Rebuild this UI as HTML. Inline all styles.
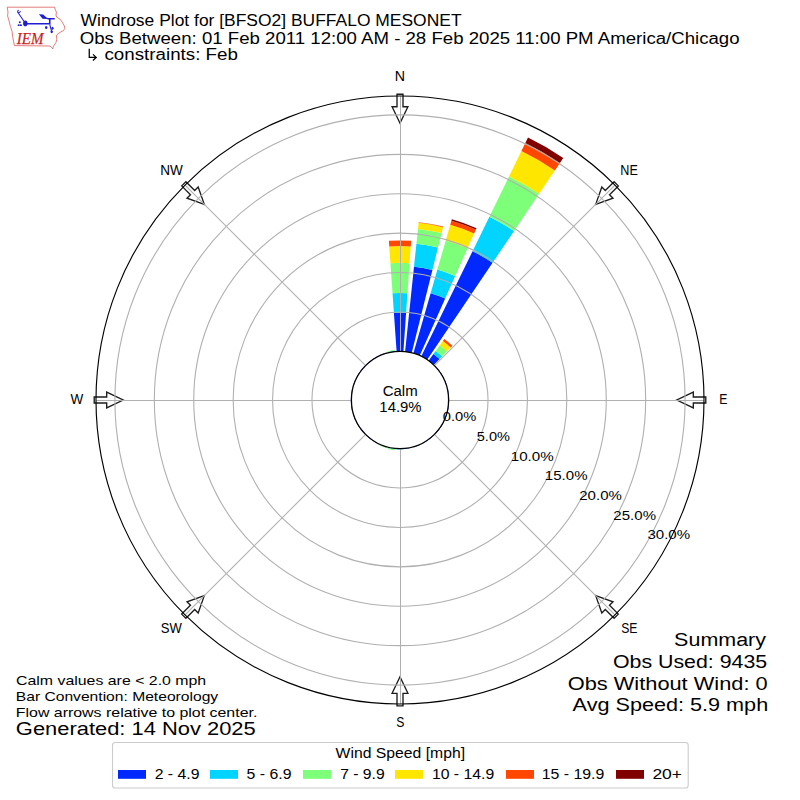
<!DOCTYPE html>
<html><head><meta charset="utf-8"><title>Windrose Plot for [BFSO2] BUFFALO MESONET</title>
<style>html,body{margin:0;padding:0;background:#fff;}svg{display:block;}</style></head>
<body><svg width="800" height="800" viewBox="0 0 800 800">
<rect width="800" height="800" fill="#fff"/>
<path d="M396.61,351.52L393.91,312.91A87.31,87.31 0 0 1 406.09,312.91L403.39,351.52A48.60,48.60 0 0 0 396.61,351.52Z" fill="#0028ff"/>
<path d="M393.91,312.91L392.54,293.25A107.01,107.01 0 0 1 407.46,293.25L406.09,312.91A87.31,87.31 0 0 0 393.91,312.91Z" fill="#00d4ff"/>
<path d="M392.54,293.25L390.43,263.13A137.20,137.20 0 0 1 409.57,263.13L407.46,293.25A107.01,107.01 0 0 0 392.54,293.25Z" fill="#7dff7a"/>
<path d="M390.43,263.13L389.26,246.38A154.00,154.00 0 0 1 410.74,246.38L409.57,263.13A137.20,137.20 0 0 0 390.43,263.13Z" fill="#ffe600"/>
<path d="M389.26,246.38L388.87,240.87A159.51,159.51 0 0 1 411.13,240.87L410.74,246.38A154.00,154.00 0 0 0 389.26,246.38Z" fill="#ff4700"/>
<path d="M405.08,351.67L414.00,266.76A133.97,133.97 0 0 1 432.41,270.01L411.76,352.84A48.60,48.60 0 0 0 405.08,351.67Z" fill="#0028ff"/>
<path d="M414.00,266.76L416.43,243.71A157.15,157.15 0 0 1 438.02,247.52L432.41,270.01A133.97,133.97 0 0 0 414.00,266.76Z" fill="#00d4ff"/>
<path d="M416.43,243.71L417.98,228.89A172.05,172.05 0 0 1 441.62,233.06L438.02,247.52A157.15,157.15 0 0 0 416.43,243.71Z" fill="#7dff7a"/>
<path d="M417.98,228.89L418.62,222.86A178.12,178.12 0 0 1 443.09,227.17L441.62,233.06A172.05,172.05 0 0 0 417.98,228.89Z" fill="#ffe600"/>
<path d="M418.62,222.86L418.68,222.23A178.75,178.75 0 0 1 443.24,226.56L443.09,227.17A178.12,178.12 0 0 0 418.62,222.86Z" fill="#ff4700"/>
<path d="M413.40,353.28L430.63,293.19A111.11,111.11 0 0 1 445.19,298.49L419.77,355.60A48.60,48.60 0 0 0 413.40,353.28Z" fill="#0028ff"/>
<path d="M430.63,293.19L437.41,269.55A135.71,135.71 0 0 1 455.20,276.03L445.19,298.49A111.11,111.11 0 0 0 430.63,293.19Z" fill="#00d4ff"/>
<path d="M437.41,269.55L445.77,240.38A166.06,166.06 0 0 1 467.54,248.30L455.20,276.03A135.71,135.71 0 0 0 437.41,269.55Z" fill="#7dff7a"/>
<path d="M445.77,240.38L450.23,224.84A182.22,182.22 0 0 1 474.11,233.54L467.54,248.30A166.06,166.06 0 0 0 445.77,240.38Z" fill="#ffe600"/>
<path d="M450.23,224.84L451.42,220.67A186.55,186.55 0 0 1 475.88,229.58L474.11,233.54A182.22,182.22 0 0 0 450.23,224.84Z" fill="#ff4700"/>
<path d="M451.42,220.67L451.86,219.16A188.13,188.13 0 0 1 476.52,228.14L475.88,229.58A186.55,186.55 0 0 0 451.42,220.67Z" fill="#800000"/>
<path d="M421.30,356.32L472.55,251.25A165.50,165.50 0 0 1 492.55,262.79L427.18,359.71A48.60,48.60 0 0 0 421.30,356.32Z" fill="#0028ff"/>
<path d="M472.55,251.25L489.42,216.67A203.97,203.97 0 0 1 514.06,230.90L492.55,262.79A165.50,165.50 0 0 0 472.55,251.25Z" fill="#00d4ff"/>
<path d="M489.42,216.67L509.04,176.43A248.75,248.75 0 0 1 539.10,193.78L514.06,230.90A203.97,203.97 0 0 0 489.42,216.67Z" fill="#7dff7a"/>
<path d="M509.04,176.43L521.42,151.06A276.97,276.97 0 0 1 554.88,170.38L539.10,193.78A248.75,248.75 0 0 0 509.04,176.43Z" fill="#ffe600"/>
<path d="M521.42,151.06L525.36,142.98A285.96,285.96 0 0 1 559.91,162.93L554.88,170.38A276.97,276.97 0 0 0 521.42,151.06Z" fill="#ff4700"/>
<path d="M525.36,142.98L527.98,137.60A291.95,291.95 0 0 1 563.26,157.96L559.91,162.93A285.96,285.96 0 0 0 525.36,142.98Z" fill="#800000"/>
<path d="M428.57,360.68L433.43,353.99A56.88,56.88 0 0 1 439.51,359.09L433.76,365.04A48.60,48.60 0 0 0 428.57,360.68Z" fill="#0028ff"/>
<path d="M433.43,353.99L435.66,350.92A60.66,60.66 0 0 1 442.14,356.36L439.51,359.09A56.88,56.88 0 0 0 433.43,353.99Z" fill="#00d4ff"/>
<path d="M435.66,350.92L439.78,345.25A67.68,67.68 0 0 1 447.01,351.32L442.14,356.36A60.66,60.66 0 0 0 435.66,350.92Z" fill="#7dff7a"/>
<path d="M439.78,345.25L442.93,340.91A73.04,73.04 0 0 1 450.74,347.46L447.01,351.32A67.68,67.68 0 0 0 439.78,345.25Z" fill="#ffe600"/>
<path d="M442.93,340.91L444.27,339.06A75.32,75.32 0 0 1 452.32,345.82L450.74,347.46A73.04,73.04 0 0 0 442.93,340.91Z" fill="#ff4700"/>
<path d="M403.39,448.48L403.46,449.43A49.55,49.55 0 0 1 396.54,449.43L396.61,448.48A48.60,48.60 0 0 0 403.39,448.48Z" fill="#00d4ff"/>
<path d="M394.92,448.33L394.84,449.12A49.39,49.39 0 0 1 388.05,447.92L388.24,447.16A48.60,48.60 0 0 0 394.92,448.33Z" fill="#00d4ff"/>
<path d="M394.84,449.12L394.71,450.29A50.57,50.57 0 0 1 387.77,449.07L388.05,447.92A49.39,49.39 0 0 0 394.84,449.12Z" fill="#7dff7a"/>
<path d="M386.60,446.72L386.50,447.10A48.99,48.99 0 0 1 380.07,444.76L380.23,444.40A48.60,48.60 0 0 0 386.60,446.72Z" fill="#00d4ff"/>
<path d="M386.50,447.10L386.23,448.01A49.94,49.94 0 0 1 379.69,445.62L380.07,444.76A48.99,48.99 0 0 0 386.50,447.10Z" fill="#7dff7a"/>
<path d="M434.96,366.24L435.36,365.86A49.15,49.15 0 0 1 439.76,371.11L439.32,371.43A48.60,48.60 0 0 0 434.96,366.24Z" fill="#0028ff"/>
<path d="M440.29,372.82L440.75,372.51A49.15,49.15 0 0 1 444.18,378.45L443.68,378.70A48.60,48.60 0 0 0 440.29,372.82Z" fill="#0028ff"/>
<path d="M444.40,380.23L444.90,380.01A49.15,49.15 0 0 1 447.25,386.45L446.72,386.60A48.60,48.60 0 0 0 444.40,380.23Z" fill="#0028ff"/>
<path d="M447.16,388.24L447.69,388.11A49.15,49.15 0 0 1 448.88,394.86L448.33,394.92A48.60,48.60 0 0 0 447.16,388.24Z" fill="#0028ff"/>
<path d="M448.48,396.61L449.03,396.57A49.15,49.15 0 0 1 449.03,403.43L448.48,403.39A48.60,48.60 0 0 0 448.48,396.61Z" fill="#0028ff"/>
<path d="M448.33,405.08L448.88,405.14A49.15,49.15 0 0 1 447.69,411.89L447.16,411.76A48.60,48.60 0 0 0 448.33,405.08Z" fill="#0028ff"/>
<path d="M446.72,413.40L447.25,413.55A49.15,49.15 0 0 1 444.90,419.99L444.40,419.77A48.60,48.60 0 0 0 446.72,413.40Z" fill="#0028ff"/>
<path d="M443.68,421.30L444.18,421.55A49.15,49.15 0 0 1 440.75,427.49L440.29,427.18A48.60,48.60 0 0 0 443.68,421.30Z" fill="#0028ff"/>
<path d="M439.32,428.57L439.76,428.89A49.15,49.15 0 0 1 435.36,434.14L434.96,433.76A48.60,48.60 0 0 0 439.32,428.57Z" fill="#0028ff"/>
<path d="M433.76,434.96L434.14,435.36A49.15,49.15 0 0 1 428.89,439.76L428.57,439.32A48.60,48.60 0 0 0 433.76,434.96Z" fill="#0028ff"/>
<path d="M427.18,440.29L427.49,440.75A49.15,49.15 0 0 1 421.55,444.18L421.30,443.68A48.60,48.60 0 0 0 427.18,440.29Z" fill="#0028ff"/>
<path d="M419.77,444.40L419.99,444.90A49.15,49.15 0 0 1 413.55,447.25L413.40,446.72A48.60,48.60 0 0 0 419.77,444.40Z" fill="#0028ff"/>
<path d="M411.76,447.16L411.89,447.69A49.15,49.15 0 0 1 405.14,448.88L405.08,448.33A48.60,48.60 0 0 0 411.76,447.16Z" fill="#0028ff"/>
<path d="M378.70,443.68L378.45,444.18A49.15,49.15 0 0 1 372.51,440.75L372.82,440.29A48.60,48.60 0 0 0 378.70,443.68Z" fill="#0028ff"/>
<path d="M371.43,439.32L371.11,439.76A49.15,49.15 0 0 1 365.86,435.36L366.24,434.96A48.60,48.60 0 0 0 371.43,439.32Z" fill="#0028ff"/>
<path d="M365.04,433.76L364.64,434.14A49.15,49.15 0 0 1 360.24,428.89L360.68,428.57A48.60,48.60 0 0 0 365.04,433.76Z" fill="#0028ff"/>
<path d="M359.71,427.18L359.25,427.49A49.15,49.15 0 0 1 355.82,421.55L356.32,421.30A48.60,48.60 0 0 0 359.71,427.18Z" fill="#0028ff"/>
<path d="M355.60,419.77L355.10,419.99A49.15,49.15 0 0 1 352.75,413.55L353.28,413.40A48.60,48.60 0 0 0 355.60,419.77Z" fill="#0028ff"/>
<path d="M352.84,411.76L352.31,411.89A49.15,49.15 0 0 1 351.12,405.14L351.67,405.08A48.60,48.60 0 0 0 352.84,411.76Z" fill="#0028ff"/>
<path d="M351.52,403.39L350.97,403.43A49.15,49.15 0 0 1 350.97,396.57L351.52,396.61A48.60,48.60 0 0 0 351.52,403.39Z" fill="#0028ff"/>
<path d="M351.67,394.92L351.12,394.86A49.15,49.15 0 0 1 352.31,388.11L352.84,388.24A48.60,48.60 0 0 0 351.67,394.92Z" fill="#0028ff"/>
<path d="M353.28,386.60L352.75,386.45A49.15,49.15 0 0 1 355.10,380.01L355.60,380.23A48.60,48.60 0 0 0 353.28,386.60Z" fill="#0028ff"/>
<path d="M356.32,378.70L355.82,378.45A49.15,49.15 0 0 1 359.25,372.51L359.71,372.82A48.60,48.60 0 0 0 356.32,378.70Z" fill="#0028ff"/>
<path d="M360.68,371.43L360.24,371.11A49.15,49.15 0 0 1 364.64,365.86L365.04,366.24A48.60,48.60 0 0 0 360.68,371.43Z" fill="#0028ff"/>
<path d="M366.24,365.04L365.86,364.64A49.15,49.15 0 0 1 371.11,360.24L371.43,360.68A48.60,48.60 0 0 0 366.24,365.04Z" fill="#0028ff"/>
<path d="M372.82,359.71L372.51,359.25A49.15,49.15 0 0 1 378.45,355.82L378.70,356.32A48.60,48.60 0 0 0 372.82,359.71Z" fill="#0028ff"/>
<path d="M380.23,355.60L380.01,355.10A49.15,49.15 0 0 1 386.45,352.75L386.60,353.28A48.60,48.60 0 0 0 380.23,355.60Z" fill="#0028ff"/>
<path d="M388.24,352.84L388.11,352.31A49.15,49.15 0 0 1 394.86,351.12L394.92,351.67A48.60,48.60 0 0 0 388.24,352.84Z" fill="#0028ff"/>
<path d="M388.11,352.31L388.01,351.93A49.55,49.55 0 0 1 394.82,350.73L394.86,351.12A49.15,49.15 0 0 0 388.11,352.31Z" fill="#00d4ff"/>
<path d="M388.01,351.93L387.86,351.31A50.18,50.18 0 0 1 394.76,350.10L394.82,350.73A49.55,49.55 0 0 0 388.01,351.93Z" fill="#7dff7a"/>
<polygon points="397.00,94.20 397.00,106.70 392.10,106.70 400.00,123.20 407.90,106.70 403.00,106.70 403.00,94.20" fill="#fff" stroke="#1c1c1c" stroke-width="1.35" stroke-linejoin="miter"/>
<polygon points="614.11,181.65 605.27,190.48 601.81,187.02 595.73,204.27 612.98,198.19 609.52,194.73 618.35,185.89" fill="#fff" stroke="#1c1c1c" stroke-width="1.35" stroke-linejoin="miter"/>
<polygon points="705.80,397.00 693.30,397.00 693.30,392.10 676.80,400.00 693.30,407.90 693.30,403.00 705.80,403.00" fill="#fff" stroke="#1c1c1c" stroke-width="1.35" stroke-linejoin="miter"/>
<polygon points="618.35,614.11 609.52,605.27 612.98,601.81 595.73,595.73 601.81,612.98 605.27,609.52 614.11,618.35" fill="#fff" stroke="#1c1c1c" stroke-width="1.35" stroke-linejoin="miter"/>
<polygon points="403.00,705.80 403.00,693.30 407.90,693.30 400.00,676.80 392.10,693.30 397.00,693.30 397.00,705.80" fill="#fff" stroke="#1c1c1c" stroke-width="1.35" stroke-linejoin="miter"/>
<polygon points="185.89,618.35 194.73,609.52 198.19,612.98 204.27,595.73 187.02,601.81 190.48,605.27 181.65,614.11" fill="#fff" stroke="#1c1c1c" stroke-width="1.35" stroke-linejoin="miter"/>
<polygon points="94.20,403.00 106.70,403.00 106.70,407.90 123.20,400.00 106.70,392.10 106.70,397.00 94.20,397.00" fill="#fff" stroke="#1c1c1c" stroke-width="1.35" stroke-linejoin="miter"/>
<polygon points="181.65,185.89 190.48,194.73 187.02,198.19 204.27,204.27 198.19,187.02 194.73,190.48 185.89,181.65" fill="#fff" stroke="#1c1c1c" stroke-width="1.35" stroke-linejoin="miter"/>
<circle cx="400.0" cy="400.0" r="88.02" fill="none" stroke="#b0b0b0" stroke-width="1.1"/>
<circle cx="400.0" cy="400.0" r="127.43" fill="none" stroke="#b0b0b0" stroke-width="1.1"/>
<circle cx="400.0" cy="400.0" r="166.84" fill="none" stroke="#b0b0b0" stroke-width="1.1"/>
<circle cx="400.0" cy="400.0" r="206.26" fill="none" stroke="#b0b0b0" stroke-width="1.1"/>
<circle cx="400.0" cy="400.0" r="245.67" fill="none" stroke="#b0b0b0" stroke-width="1.1"/>
<circle cx="400.0" cy="400.0" r="285.09" fill="none" stroke="#b0b0b0" stroke-width="1.1"/>
<line x1="400.5" y1="351.40" x2="400.5" y2="96.00" stroke="#b0b0b0" stroke-width="1"/>
<line x1="434.37" y1="365.63" x2="614.96" y2="185.04" stroke="#b0b0b0" stroke-width="1.1"/>
<line x1="448.60" y1="400.5" x2="704.00" y2="400.5" stroke="#b0b0b0" stroke-width="1"/>
<line x1="434.37" y1="434.37" x2="614.96" y2="614.96" stroke="#b0b0b0" stroke-width="1.1"/>
<line x1="400.5" y1="448.60" x2="400.5" y2="704.00" stroke="#b0b0b0" stroke-width="1"/>
<line x1="365.63" y1="434.37" x2="185.04" y2="614.96" stroke="#b0b0b0" stroke-width="1.1"/>
<line x1="351.40" y1="400.5" x2="96.00" y2="400.5" stroke="#b0b0b0" stroke-width="1"/>
<line x1="365.63" y1="365.63" x2="185.04" y2="185.04" stroke="#b0b0b0" stroke-width="1.1"/>
<circle cx="400.0" cy="400.0" r="304.0" fill="none" stroke="#000" stroke-width="1.15"/>
<circle cx="400.0" cy="400.0" r="48.6" fill="#fff" stroke="#000" stroke-width="1.3"/>
<rect x="112.5" y="742.5" width="575.7" height="45.5" rx="2.8" ry="2.8" fill="#fff" stroke="#cccccc" stroke-width="1.1"/>
<rect x="118" y="770" width="28" height="8.8" fill="#0028ff"/>
<rect x="210" y="770" width="28" height="8.8" fill="#00d4ff"/>
<rect x="303" y="770" width="28" height="8.8" fill="#7dff7a"/>
<rect x="395" y="770" width="28" height="8.8" fill="#ffe600"/>
<rect x="506" y="770" width="28" height="8.8" fill="#ff4700"/>
<rect x="616" y="770" width="28" height="8.8" fill="#800000"/>
<path d="M89.25,48.75V57.4H96.2M93,54.4L96.25,57.4L92.9,60.5" fill="none" stroke="#000" stroke-width="1.25" stroke-linejoin="miter"/>
<path d="M7.2,7.2 L54.8,7.2 L55.2,9.6 L56.4,12 L56,15.2 L56.8,17.2 L60,19.2 L62.4,22.4 L64.4,26 L64.8,28.4 L63.6,30.4 L60,32.4 L57.2,34.4 L56.4,36 L56.8,39.2 L56,42.4 L54.4,44.8 L53.2,46.8 L52.8,48.8 L51.2,47.2 L50,46 L14.4,45.6 L12.8,37.6 L12,31.2 L10.4,26.4 L8.8,20 L7.6,16 L8,12 Z" fill="#fff" stroke="#dd5a5a" stroke-width="0.8" stroke-linejoin="round"/>
<ellipse cx="25.3" cy="23.4" rx="2.2" ry="2.8" fill="#1f1fd0"/>
<path d="M25.3,23.7H49.75M49.75,18.2V24.6M47.5,18.7H54.7" stroke="#1f1fd0" stroke-width="1.6" fill="none"/>
<path d="M25.3,23.2L18.5,13.2L17.4,11.6M17.4,11.6L18.6,10.0M18.7,12.9L20.6,11.4M49.75,24.5L51.7,31.6" stroke="#1f1fd0" stroke-width="1.05" fill="none"/>
<path d="M38.9,14.2L43.1,14.4L46.5,17.4L49.2,18.4L47,19.1L42.6,18.8Z" fill="#1f1fd0"/>
<circle cx="19.8" cy="22.3" r="1.0" fill="#1f1fd0"/><ellipse cx="18.7" cy="25.2" rx="1.1" ry="0.9" fill="#1f1fd0"/><ellipse cx="20.9" cy="25.2" rx="1.1" ry="0.9" fill="#1f1fd0"/>
<ellipse cx="46.2" cy="27.6" rx="1.2" ry="1.5" fill="#1f1fd0"/><ellipse cx="52.5" cy="28.2" rx="1.1" ry="1.5" fill="#1f1fd0"/><ellipse cx="51.7" cy="31.8" rx="1.2" ry="1.4" fill="#1f1fd0"/>
<g class="tx">
<text x="80.64" y="25.70" style="font-size:16.82px;font-family:'Liberation Sans', sans-serif;font-style:normal" fill="#000" textLength="380.92" lengthAdjust="spacingAndGlyphs">Windrose Plot for [BFSO2] BUFFALO MESONET</text>
<text x="79.72" y="43.60" style="font-size:16.82px;font-family:'Liberation Sans', sans-serif;font-style:normal" fill="#000" textLength="659.88" lengthAdjust="spacingAndGlyphs">Obs Between: 01 Feb 2011 12:00 AM - 28 Feb 2025 11:00 PM America/Chicago</text>
<text x="104.48" y="60.30" style="font-size:16.82px;font-family:'Liberation Sans', sans-serif;font-style:normal" fill="#000" textLength="133.47" lengthAdjust="spacingAndGlyphs">constraints: Feb</text>
<text x="394.87" y="81.00" style="font-size:14.32px;font-family:'Liberation Sans', sans-serif;font-style:normal" fill="#000" textLength="10.27" lengthAdjust="spacingAndGlyphs">N</text>
<text x="620.27" y="174.75" style="font-size:14.32px;font-family:'Liberation Sans', sans-serif;font-style:normal" fill="#000" textLength="17.53" lengthAdjust="spacingAndGlyphs">NE</text>
<text x="719.20" y="404.00" style="font-size:14.32px;font-family:'Liberation Sans', sans-serif;font-style:normal" fill="#000" textLength="8.15" lengthAdjust="spacingAndGlyphs">E</text>
<text x="621.17" y="633.10" style="font-size:14.32px;font-family:'Liberation Sans', sans-serif;font-style:normal" fill="#000" textLength="16.22" lengthAdjust="spacingAndGlyphs">SE</text>
<text x="396.27" y="726.80" style="font-size:14.32px;font-family:'Liberation Sans', sans-serif;font-style:normal" fill="#000" textLength="8.10" lengthAdjust="spacingAndGlyphs">S</text>
<text x="160.82" y="633.10" style="font-size:14.32px;font-family:'Liberation Sans', sans-serif;font-style:normal" fill="#000" textLength="21.07" lengthAdjust="spacingAndGlyphs">SW</text>
<text x="70.54" y="403.80" style="font-size:14.32px;font-family:'Liberation Sans', sans-serif;font-style:normal" fill="#000" textLength="12.76" lengthAdjust="spacingAndGlyphs">W</text>
<text x="160.21" y="174.75" style="font-size:14.32px;font-family:'Liberation Sans', sans-serif;font-style:normal" fill="#000" textLength="22.60" lengthAdjust="spacingAndGlyphs">NW</text>
<text x="442.83" y="421.10" style="font-size:13.42px;font-family:'Liberation Sans', sans-serif;font-style:normal" fill="#000" textLength="33.49" lengthAdjust="spacingAndGlyphs">0.0%</text>
<text x="476.79" y="440.81" style="font-size:13.42px;font-family:'Liberation Sans', sans-serif;font-style:normal" fill="#000" textLength="33.17" lengthAdjust="spacingAndGlyphs">5.0%</text>
<text x="510.73" y="460.52" style="font-size:13.42px;font-family:'Liberation Sans', sans-serif;font-style:normal" fill="#000" textLength="42.91" lengthAdjust="spacingAndGlyphs">10.0%</text>
<text x="544.87" y="480.22" style="font-size:13.42px;font-family:'Liberation Sans', sans-serif;font-style:normal" fill="#000" textLength="42.65" lengthAdjust="spacingAndGlyphs">15.0%</text>
<text x="579.24" y="499.93" style="font-size:13.42px;font-family:'Liberation Sans', sans-serif;font-style:normal" fill="#000" textLength="42.62" lengthAdjust="spacingAndGlyphs">20.0%</text>
<text x="613.38" y="519.64" style="font-size:13.42px;font-family:'Liberation Sans', sans-serif;font-style:normal" fill="#000" textLength="42.62" lengthAdjust="spacingAndGlyphs">25.0%</text>
<text x="647.43" y="539.35" style="font-size:13.42px;font-family:'Liberation Sans', sans-serif;font-style:normal" fill="#000" textLength="42.70" lengthAdjust="spacingAndGlyphs">30.0%</text>
<text x="382.71" y="395.90" style="font-size:13.98px;font-family:'Liberation Sans', sans-serif;font-style:normal" fill="#000" textLength="34.98" lengthAdjust="spacingAndGlyphs">Calm</text>
<text x="379.37" y="411.90" style="font-size:13.84px;font-family:'Liberation Sans', sans-serif;font-style:normal" fill="#000" textLength="42.19" lengthAdjust="spacingAndGlyphs">14.9%</text>
<text x="16.05" y="684.90" style="font-size:13.37px;font-family:'Liberation Sans', sans-serif;font-style:normal" fill="#000" textLength="190.12" lengthAdjust="spacingAndGlyphs">Calm values are &lt; 2.0 mph</text>
<text x="15.81" y="700.70" style="font-size:13.37px;font-family:'Liberation Sans', sans-serif;font-style:normal" fill="#000" textLength="202.35" lengthAdjust="spacingAndGlyphs">Bar Convention: Meteorology</text>
<text x="15.79" y="716.70" style="font-size:13.37px;font-family:'Liberation Sans', sans-serif;font-style:normal" fill="#000" textLength="241.55" lengthAdjust="spacingAndGlyphs">Flow arrows relative to plot center.</text>
<text x="15.87" y="735.30" style="font-size:18.02px;font-family:'Liberation Sans', sans-serif;font-style:normal" fill="#000" textLength="239.83" lengthAdjust="spacingAndGlyphs">Generated: 14 Nov 2025</text>
<text x="674.13" y="646.00" style="font-size:18.79px;font-family:'Liberation Sans', sans-serif;font-style:normal" fill="#000" textLength="91.84" lengthAdjust="spacingAndGlyphs">Summary</text>
<text x="612.94" y="667.80" style="font-size:18.93px;font-family:'Liberation Sans', sans-serif;font-style:normal" fill="#000" textLength="154.23" lengthAdjust="spacingAndGlyphs">Obs Used: 9435</text>
<text x="567.78" y="689.70" style="font-size:19.07px;font-family:'Liberation Sans', sans-serif;font-style:normal" fill="#000" textLength="199.87" lengthAdjust="spacingAndGlyphs">Obs Without Wind: 0</text>
<text x="572.64" y="711.20" style="font-size:18.93px;font-family:'Liberation Sans', sans-serif;font-style:normal" fill="#000" textLength="195.56" lengthAdjust="spacingAndGlyphs">Avg Speed: 5.9 mph</text>
<text x="335.64" y="758.00" style="font-size:15.12px;font-family:'Liberation Sans', sans-serif;font-style:normal" fill="#000" textLength="129.46" lengthAdjust="spacingAndGlyphs">Wind Speed [mph]</text>
<text x="154.69" y="778.80" style="font-size:13.84px;font-family:'Liberation Sans', sans-serif;font-style:normal" fill="#000" textLength="44.76" lengthAdjust="spacingAndGlyphs">2 - 4.9</text>
<text x="246.58" y="778.80" style="font-size:13.84px;font-family:'Liberation Sans', sans-serif;font-style:normal" fill="#000" textLength="44.87" lengthAdjust="spacingAndGlyphs">5 - 6.9</text>
<text x="340.19" y="778.80" style="font-size:13.84px;font-family:'Liberation Sans', sans-serif;font-style:normal" fill="#000" textLength="44.50" lengthAdjust="spacingAndGlyphs">7 - 9.9</text>
<text x="431.96" y="778.80" style="font-size:13.84px;font-family:'Liberation Sans', sans-serif;font-style:normal" fill="#000" textLength="62.26" lengthAdjust="spacingAndGlyphs">10 - 14.9</text>
<text x="541.66" y="778.80" style="font-size:13.84px;font-family:'Liberation Sans', sans-serif;font-style:normal" fill="#000" textLength="62.62" lengthAdjust="spacingAndGlyphs">15 - 19.9</text>
<text x="652.40" y="778.80" style="font-size:13.84px;font-family:'Liberation Sans', sans-serif;font-style:normal" fill="#000" textLength="29.65" lengthAdjust="spacingAndGlyphs">20+</text>
<text x="16.85" y="44.00" style="font-size:17.4px;font-family:'Liberation Serif', serif;font-style:italic" fill="#cc1f1f" stroke="#cc1f1f" stroke-width="0.25" textLength="26.69" lengthAdjust="spacingAndGlyphs">IEM</text>
</g>
</svg></body></html>
